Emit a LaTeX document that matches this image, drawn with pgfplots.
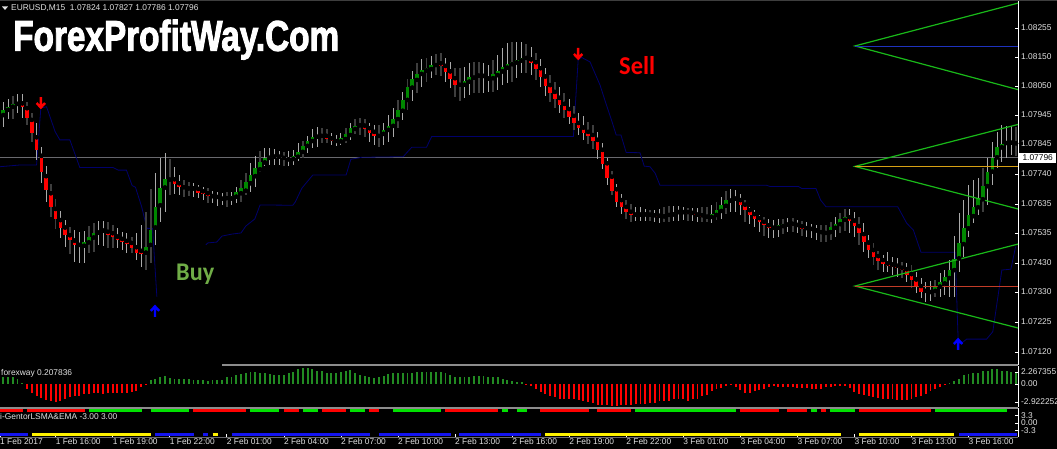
\documentclass[border=0pt]{standalone}
\usepackage{fontspec}
\setmainfont{Liberation Sans}
\newfontfamily\carl{Carlito}
\newfontfamily\titlefont[BoldFeatures={FakeBold=2.5}]{Liberation Sans}
\usepackage{pgfplots}
\usepackage{pgfplotstable}
\pgfplotsset{compat=1.18}

\definecolor{upbody}{RGB}{0,135,0}
\definecolor{downbody}{RGB}{255,0,0}
\definecolor{wicklight}{RGB}{170,170,170}
\definecolor{wickdark}{RGB}{62,62,62}
\definecolor{navy2}{RGB}{0,0,108}
\definecolor{fan}{RGB}{25,185,25}
\definecolor{lbl}{RGB}{225,225,225}
\definecolor{histgreen}{RGB}{34,139,34}
\definecolor{rule}{RGB}{140,140,140}
\definecolor{nowline}{RGB}{105,105,110}

% candles, in points above 1.07000: open close high low, w = light/dark wick
\pgfplotstableread{
o c h l w
950 968 997 909 1
968 979 1006 935 1
979 989 1017 935 0
989 991 1024 956 1
991 979 1024 939 1
974 941 997 915 0
933 888 956 857 0
872 828 921 793 1
807 752 839 711 1
736 687 772 647 1
676 627 708 592 0
621 585 656 550 0
582 556 615 520 1
556 530 582 489 1
529 512 559 463 0
510 495 547 436 1
495 492 541 431 1
492 505 545 433 1
504 522 561 466 0
521 536 571 471 0
538 545 580 495 1
545 540 580 491 1
541 530 577 483 0
536 523 565 483 0
524 513 553 483 1
516 505 541 477 1
509 498 536 466 1
502 485 524 466 0
487 466 536 442 1
474 463 565 417 1
468 487 611 407 0
495 547 691 433 0
556 629 748 495 1
634 696 798 577 1
696 725 816 612 1
724 726 795 670 0
725 710 767 673 1
711 698 740 670 1
697 693 722 664 0
693 691 717 666 0
693 689 711 662 1
691 678 705 658 1
683 672 699 652 1
676 668 693 643 0
666 662 684 641 1
663 658 679 631 1
657 659 676 635 1
659 663 679 629 0
658 668 682 635 1
664 680 699 643 1
676 693 722 647 0
685 714 746 670 0
711 739 781 682 1
736 764 807 699 1
760 784 824 752 0
784 800 833 772 1
800 804 833 775 1
804 802 830 775 1
804 798 825 775 1
800 795 822 772 0
795 801 825 772 1
796 807 828 775 1
804 822 851 790 1
821 842 860 798 0
842 858 877 816 1
859 872 900 833 1
874 877 907 839 1
877 873 903 851 0
877 865 900 851 0
868 858 886 845 1
859 857 880 842 1
858 870 886 845 1
866 882 903 851 0
880 904 921 863 1
901 913 935 884 0
914 912 939 880 0
913 901 935 872 0
904 887 921 857 1
891 878 915 845 1
877 884 915 837 0
884 898 921 845 1
898 913 950 857 1
912 936 974 874 1
936 968 1003 904 0
965 1003 1032 933 1
1003 1047 1075 968 0
1046 1075 1106 1000 1
1073 1094 1131 1026 0
1094 1108 1145 1049 1
1106 1115 1149 1067 0
1111 1125 1157 1079 1
1125 1129 1164 1090 0
1131 1122 1166 1085 0
1122 1102 1149 1067 1
1103 1075 1135 1044 1
1079 1056 1114 1014 0
1056 1059 1114 1000 0
1056 1069 1117 1011 1
1067 1082 1131 1020 1
1081 1088 1135 1026 0
1088 1085 1135 1026 0
1087 1079 1131 1028 1
1078 1080 1125 1032 1
1079 1094 1143 1032 0
1090 1104 1160 1038 1
1103 1118 1184 1055 1
1116 1129 1201 1061 1
1128 1135 1205 1067 0
1134 1143 1207 1079 1
1141 1150 1207 1096 1
1150 1145 1199 1096 0
1145 1131 1187 1090 1
1135 1110 1169 1073 0
1114 1082 1145 1049 1
1085 1053 1114 1017 1
1055 1026 1090 997 0
1031 1005 1067 974 0
1010 985 1047 956 1
989 968 1026 939 0
971 944 1006 919 1
947 921 982 898 0
922 904 958 880 1
906 888 947 863 1
891 878 927 849 0
880 859 915 830 0
863 828 889 795 1
828 778 851 761 1
781 731 798 705 1
734 684 754 670 0
690 647 708 627 1
652 627 673 603 1
628 610 652 585 0
611 601 637 576 0
601 602 627 579 1
601 602 627 580 1
602 600 622 580 1
601 597 617 580 0
599 594 617 576 1
597 593 621 572 1
595 600 627 574 0
600 602 631 575 0
602 607 633 578 1
610 607 631 580 1
610 607 627 582 1
610 603 624 580 0
607 600 624 579 1
601 596 624 576 1
599 593 627 574 0
594 596 627 575 0
593 603 634 573 1
600 616 645 582 0
614 635 662 586 1
632 652 684 603 0
650 657 690 610 1
657 652 687 610 1
652 635 673 600 1
636 616 652 576 0
617 601 629 568 1
603 587 617 557 1
589 575 600 541 1
576 564 592 527 0
564 555 586 518 1
555 558 582 518 1
555 564 586 524 1
561 568 586 533 0
566 571 589 541 1
569 562 589 541 0
565 558 582 536 1
560 551 579 526 0
554 551 574 524 1
551 544 568 518 1
546 540 565 512 1
540 537 564 506 0
537 541 564 506 0
540 558 575 512 0
555 569 592 524 1
568 585 606 536 0
583 592 621 544 0
592 579 620 536 1
580 561 609 524 1
561 536 592 495 0
533 506 571 471 1
503 477 530 448 1
477 452 501 425 0
456 438 475 407 0
442 428 460 401 1
430 422 470 401 1
426 416 454 390 1
422 413 448 384 1
415 407 436 378 0
410 390 430 366 1
393 372 425 343 0
374 349 401 325 1
351 331 378 308 1
334 329 366 296 1
330 336 369 299 1
334 351 372 314 0
349 365 395 314 1
360 381 407 320 1
379 407 442 314 1
407 447 526 314 1
448 503 606 401 1
498 555 652 454 1
553 600 705 524 1
596 628 722 571 1
627 658 728 600 1
655 701 763 611 0
701 750 798 635 1
752 801 857 705 1
802 837 892 763 1
837 850 915 787 1
852 850 912 798 1
853 850 912 810 1
851 854 909 806 0
}\candles

\pgfplotsset{
  panel/.style={
    scale only axis, width=1018pt, anchor=south west,
    xmin=-0.69, xmax=213.4,
    axis y line*=right,
    axis line style={-, draw=white, line width=0.9pt},
    tick style={draw=white, line width=0.6pt},
    tickwidth=3pt,
    ticklabel style={font=\fontsize{8.4}{10}\selectfont, text=lbl},
    yticklabel style={anchor=west, inner xsep=3pt},
    scaled y ticks=false
  },
  wicks/.style 2 args={only marks, mark=none, forget plot,
    error bars/.cd, y dir=both, y explicit, error mark=none,
    error bar style={line width=#1, draw=#2}, /pgfplots/.cd},
  body/.style 2 args={only marks, mark=none, forget plot,
    error bars/.cd, y dir=#2, y explicit, error mark=none,
    error bar style={line width=3.6pt, draw=#1}, /pgfplots/.cd}
}

\pgfdeclareplotmark{downarr}{%
  \pgfsetlinewidth{2.4pt}\pgfsetmiterjoin
  \pgfpathmoveto{\pgfqpoint{0pt}{6pt}}\pgfpathlineto{\pgfqpoint{0pt}{-4.5pt}}
  \pgfpathmoveto{\pgfqpoint{-4.2pt}{0pt}}\pgfpathlineto{\pgfqpoint{0pt}{-4.5pt}}\pgfpathlineto{\pgfqpoint{4.2pt}{0pt}}
  \pgfusepathqstroke}
\pgfdeclareplotmark{uparr}{%
  \pgfsetlinewidth{2.4pt}\pgfsetmiterjoin
  \pgfpathmoveto{\pgfqpoint{0pt}{-6pt}}\pgfpathlineto{\pgfqpoint{0pt}{4.5pt}}
  \pgfpathmoveto{\pgfqpoint{-4.2pt}{0pt}}\pgfpathlineto{\pgfqpoint{0pt}{4.5pt}}\pgfpathlineto{\pgfqpoint{4.2pt}{0pt}}
  \pgfusepathqstroke}

\begin{document}
\begin{tikzpicture}[x=1pt,y=1pt]
\path[use as bounding box, fill=black] (0,0) rectangle (1057,449);
\clip (0,0) rectangle (1057,449);

% price panel
\begin{axis}[panel, at={(0pt,84pt)}, height=364pt,
    ymin=74.4, ymax=1349.5, axis x line=none,
    ytick={120,225,330,432,537,638,743.5,848.6,950,1052,1153,1255},
    yticklabels={1.07120,1.07225,1.07330,1.07430,1.07535,1.07635,1.07740,1.07845,1.07945,1.08050,1.08150,1.08255}]
  % current price line
  \addplot[nowline, line width=1.2pt, forget plot] coordinates {(-0.69,800)(213.4,800)};
  % indicator line, two pieces
  \addplot[navy2, line width=0.8pt] coordinates {
    (-0.69,769)(3.5,775)(7.0,775)(7.9,975)(9.1,979)(10.9,892)(11.9,863)(14.0,863)(16.1,766)(23.1,766)
    (24.2,757)(25.9,757)(27.1,703)(27.8,697)(29.1,629)(30.2,553)(31.4,553)(32.3,314)};
  \addplot[navy2, line width=0.8pt] coordinates {
    (42.6,495)(43.0,502)(44.9,505)(46.0,526)(48.1,533)(50.0,537)(51.0,561)(52.9,586)(54.0,635)(60.9,634)
    (61.4,645)(62.8,694)(65.1,740)(72.1,740)(73.1,795)(75.4,802)(84.1,804)(85.9,837)(89.0,837)(90.1,875)
    (119.9,875)(120.9,1143)(121.6,1152)(123.4,1136)(125.5,1055)(126.5,1003)(127.9,933)(128.9,880)(129.9,880)
    (131.0,819)(133.9,818)(134.8,771)(136.0,769)(137.1,746)(138.1,704)(160.5,704)(161.2,700)(167.2,700)
    (167.9,693)(170.9,693)(171.9,652)(173.0,629)(188.1,629)(190.0,571)(191.4,547)(193.0,469)(200.2,469)
    (200.8,168)(201.6,152)(202.6,165)(206.8,165)(208.1,191)(210.0,407)(211.9,410)(212.9,489)};
  % wicks
  \addplot[wicks={1.8pt}{wickdark}, restrict expr to domain={\thisrow{w}}{0:0}]
    table[x expr=\coordindex, y=o, y error plus expr=\thisrow{h}-\thisrow{o}, y error minus expr=\thisrow{o}-\thisrow{l}] {\candles};
  \addplot[wicks={0.9pt}{wicklight}, restrict expr to domain={\thisrow{w}}{1:1}]
    table[x expr=\coordindex, y=o, y error plus expr=\thisrow{h}-\thisrow{o}, y error minus expr=\thisrow{o}-\thisrow{l}] {\candles};
  % bodies
  \addplot[body={upbody}{plus}, restrict expr to domain={\thisrow{c}-\thisrow{o}}{0:9999}]
    table[x expr=\coordindex, y=o, y error plus expr=\thisrow{c}-\thisrow{o}] {\candles};
  \addplot[body={downbody}{minus}, restrict expr to domain={\thisrow{o}-\thisrow{c}}{0:9999}]
    table[x expr=\coordindex, y=o, y error minus expr=\thisrow{o}-\thisrow{c}] {\candles};
  % fans and their levels
  \addplot[fan, line width=1.2pt] coordinates {(213.4,1342)(179.1,1192)(213.4,1039)};
  \addplot[fan, line width=1.2pt] coordinates {(213.4,917)(179.1,770)(213.4,621)};
  \addplot[fan, line width=1.2pt] coordinates {(213.4,498)(179.1,351)(213.4,204)};
  \addplot[color={rgb,255:red,30;green,50;blue,190}, line width=0.8pt] coordinates {(179.1,1190)(213.4,1190)};
  \addplot[color={rgb,255:red,215;green,160;blue,20}, line width=1pt] coordinates {(179.1,768)(213.4,768)};
  \addplot[color={rgb,255:red,195;green,60;blue,40}, line width=1pt] coordinates {(179.1,350)(213.4,350)};
  % arrows
  \addplot[only marks, mark=downarr, mark options={draw=red}] coordinates {(7.9,992)(120.9,1164)};
  \addplot[only marks, mark=uparr, mark options={draw=blue}] coordinates {(31.9,264)(200.8,148)};
\end{axis}

% histogram panel
\begin{axis}[panel, at={(0pt,42pt)}, height=41pt,
    ymin=-3.98, ymax=3.11, axis x line=none,
    ytick={-3.11,0,2.08}, yticklabels={-2.922252,0.00,2.267355}]
  \addplot[ycomb, histgreen, line width=1.9pt] coordinates {
    (0,1.16)(1,1.16)(2,1.16)(3,.81)(4,.12)
    (31,.69)(32,.92)(33,1.16)(34,1.39)(35,1.04)(36,.92)(37,.92)(38,.81)(39,.81)(40,.69)(41,.69)(42,.69)(43,.58)(44,.69)(45,.69)(46,.69)
    (47,1.16)(48,1.27)(49,1.50)(50,1.73)(51,1.97)(52,2.08)(53,2.08)(54,1.97)(55,1.97)(56,1.73)(57,1.62)(58,1.62)(59,1.62)(60,1.85)
    (61,2.08)(62,2.54)(63,2.77)(64,2.77)(65,2.54)(66,2.31)(67,2.20)(68,1.97)(69,1.97)(70,1.85)(71,2.08)(72,2.20)
    (73,2.43)(74,1.97)(75,1.62)(76,1.39)(77,1.16)(78,1.04)(79,1.16)(80,1.39)(81,1.73)(82,1.85)(83,1.85)(84,1.97)(85,1.97)(86,1.97)
    (87,2.08)(88,2.08)(89,2.08)(90,2.08)(91,2.08)(92,2.08)(93,1.85)(94,1.50)(95,1.27)(96,1.16)(97,1.16)(98,1.27)(99,1.39)(100,1.39)
    (101,1.39)(102,1.27)(103,1.16)(104,1.16)(105,.92)(106,.69)(107,.58)(108,.35)(109,.29)
    (199,.12)(200,.58)(201,.92)(202,1.50)(203,1.73)(204,1.85)(205,1.97)(206,2.20)(207,2.31)(208,2.66)(209,2.66)(210,2.31)(211,2.20)(212,2.08)(213,1.97)};
  \addplot[ycomb, red, line width=1.9pt] coordinates {
    (5,-.92)(6,-1.62)(7,-2.02)(8,-2.43)(9,-2.77)(10,-2.89)(11,-3.06)(12,-2.89)(13,-2.66)(14,-2.31)(15,-2.08)(16,-2.08)(17,-1.73)(18,-1.73)
    (19,-1.62)(20,-1.62)(21,-1.73)(22,-1.62)(23,-1.50)(24,-1.62)(25,-1.50)(26,-1.62)(27,-1.39)(28,-1.16)(29,-.58)(30,-.12)
    (110,-.12)(111,-.35)(112,-.81)(113,-1.39)(114,-1.73)(115,-2.08)(116,-2.31)(117,-2.54)(118,-2.54)(119,-2.66)(120,-2.66)(121,-2.77)
    (122,-2.89)(123,-3.12)(124,-3.35)(125,-3.58)(126,-3.70)(127,-3.70)(128,-3.82)(129,-3.82)(130,-3.70)(131,-3.58)(132,-3.58)(133,-3.47)
    (134,-3.47)(135,-3.47)(136,-3.35)(137,-3.35)(138,-3.01)(139,-2.89)(140,-2.89)(141,-2.66)(142,-2.66)(143,-2.54)(144,-2.89)(145,-2.54)
    (146,-2.54)(147,-2.08)(148,-1.97)(149,-1.27)(150,-.92)(151,-.69)(152,-.35)(153,-.23)(154,-.46)(155,-1.04)(156,-1.62)(157,-1.50)
    (158,-1.16)(159,-1.04)(160,-.81)(161,-.46)(162,-.35)(163,-.46)(164,-.46)(165,-.46)(166,-.58)(167,-.69)(168,-.69)(169,-.69)
    (170,-.81)(171,-.81)(172,-.81)(173,-.58)(174,-.46)(175,-.35)(176,-.35)(177,-.35)(178,-.69)(179,-1.39)(180,-1.73)(181,-1.97)
    (182,-2.08)(183,-2.31)(184,-2.43)(185,-2.54)(186,-2.54)(187,-2.66)(188,-2.77)(189,-2.77)(190,-2.77)(191,-2.54)(192,-2.20)(193,-2.08)
    (194,-1.73)(195,-1.16)(196,-.81)(197,-.58)(198,-.23)};
\end{axis}

% trend strips and time axis
\begin{axis}[panel, at={(0pt,12pt)}, height=29pt,
    ymin=-6, ymax=6.4, axis x line*=bottom,
    x axis line style={draw=nowline, line width=0.9pt},
    ytick={-3.1,0,3.3}, yticklabels={-3.3,0.00,3.3},
    xtick={-0.69,11,23,35,47,59,71,83,95,107,119,131,143,155,167,179,191,203},
    xticklabels={1 Feb 2017,1 Feb 16:00,1 Feb 19:00,1 Feb 22:00,2 Feb 01:00,2 Feb 04:00,2 Feb 07:00,2 Feb 10:00,2 Feb 13:00,2 Feb 16:00,2 Feb 19:00,2 Feb 22:00,3 Feb 01:00,3 Feb 04:00,3 Feb 07:00,3 Feb 10:00,3 Feb 13:00,3 Feb 16:00},
    xticklabel style={anchor=north west, inner xsep=0pt, inner ysep=1.5pt},
    unbounded coords=jump]
  \addplot[red, line width=2.8pt] coordinates {
    (-0.7,5.2)(4.2,5.2)(4.2,nan)(5,5.2)(17.2,5.2)(17.2,nan)(40,5.2)(51,5.2)(51,nan)(59,5.2)(62.2,5.2)(62.2,nan)(67,5.2)(72.1,5.2)(72.1,nan)
    (77,5.2)(79.1,5.2)(79.1,nan)(92.9,5.2)(104,5.2)(104,nan)(112.9,5.2)(123.1,5.2)(123.1,nan)(124.9,5.2)(132.1,5.2)(132.1,nan)
    (154.9,5.2)(163.1,5.2)(163.1,nan)(164.9,5.2)(169.1,5.2)(169.1,nan)(171.9,5.2)(173.1,5.2)(173.1,nan)(180,5.2)(195,5.2)};
  \addplot[color={rgb,255:red,0;green,225;blue,0}, line width=2.8pt] coordinates {
    (18.1,5.2)(29.1,5.2)(29.1,nan)(31,5.2)(39.1,5.2)(39.1,nan)(51.9,5.2)(58,5.2)(58,nan)(63,5.2)(66.1,5.2)(66.1,nan)(72.9,5.2)(76.1,5.2)(76.1,nan)
    (82,5.2)(92.1,5.2)(92.1,nan)(104.9,5.2)(106.1,5.2)(106.1,nan)(108,5.2)(110.1,5.2)(110.1,nan)(132.9,5.2)(154,5.2)(154,nan)
    (169.9,5.2)(171.1,5.2)(171.1,nan)(173.9,5.2)(179.1,5.2)(179.1,nan)(196,5.2)(211,5.2)};
  \addplot[color={rgb,255:red,20;green,20;blue,240}, line width=2.8pt] coordinates {
    (-0.7,-5.1)(5.1,-5.1)(5.1,nan)(32,-5.1)(40.1,-5.1)(40.1,nan)(42.1,-5.1)(43,-5.1)(43,nan)(48,-5.1)(77.1,-5.1)(77.1,nan)
    (79,-5.1)(94.1,-5.1)(94.1,nan)(95.9,-5.1)(113.1,-5.1)(113.1,nan)(201,-5.1)(213.1,-5.1)};
  \addplot[yellow, line width=2.8pt] coordinates {
    (6,-5.1)(31.1,-5.1)(31.1,nan)(44,-5.1)(45.1,-5.1)(45.1,nan)(114,-5.1)(176.1,-5.1)(176.1,nan)(180,-5.1)(200,-5.1)};
\end{axis}

% frame lines between the panels
\draw[rule, line width=2pt] (222,83.5) -- (1018,83.5);
\draw[rule, line width=2pt] (0,41.3) -- (1018,41.3);
\draw[wickdark, line width=1.2pt] (0,448.8) -- (1057,448.8);

% price tag, header and captions
\node[fill=white, text=black, anchor=west, inner xsep=2pt, inner ysep=1.8pt, font=\fontsize{8.4}{10}\selectfont, minimum width=37pt] at (1019,291) {1.07796};
\fill[lbl] (2,442.5) -- (8,442.5) -- (5,439) -- cycle;
\node[anchor=west, inner sep=0pt, text=lbl, font=\fontsize{8.4}{10}\selectfont] at (11,441) {EURUSD,M15\ \ 1.07824 1.07827 1.07786 1.07796};
\node[anchor=west, inner sep=0pt, text=lbl, font=\fontsize{8.4}{10}\selectfont] at (1,76) {forexway 0.207836};
\node[anchor=west, inner sep=0pt, text=lbl, font=\fontsize{8.4}{10}\selectfont] at (0,32) {i-GentorLSMA\&EMA -3.00 3.00};
\node[anchor=base west, inner sep=0pt, text=white] at (13,398.3) {\resizebox{326pt}{31pt}{\titlefont\bfseries ForexProfitWay.Com}};
\node[anchor=base west, inner sep=0pt, text={rgb,255:red,112;green,173;blue,71}] at (176,168) {\resizebox{38pt}{16.5pt}{\carl\bfseries Buy}};
\node[anchor=base west, inner sep=0pt, text=red] at (619,374) {\resizebox{36pt}{18pt}{\carl\bfseries Sell}};
\end{tikzpicture}
\end{document}
